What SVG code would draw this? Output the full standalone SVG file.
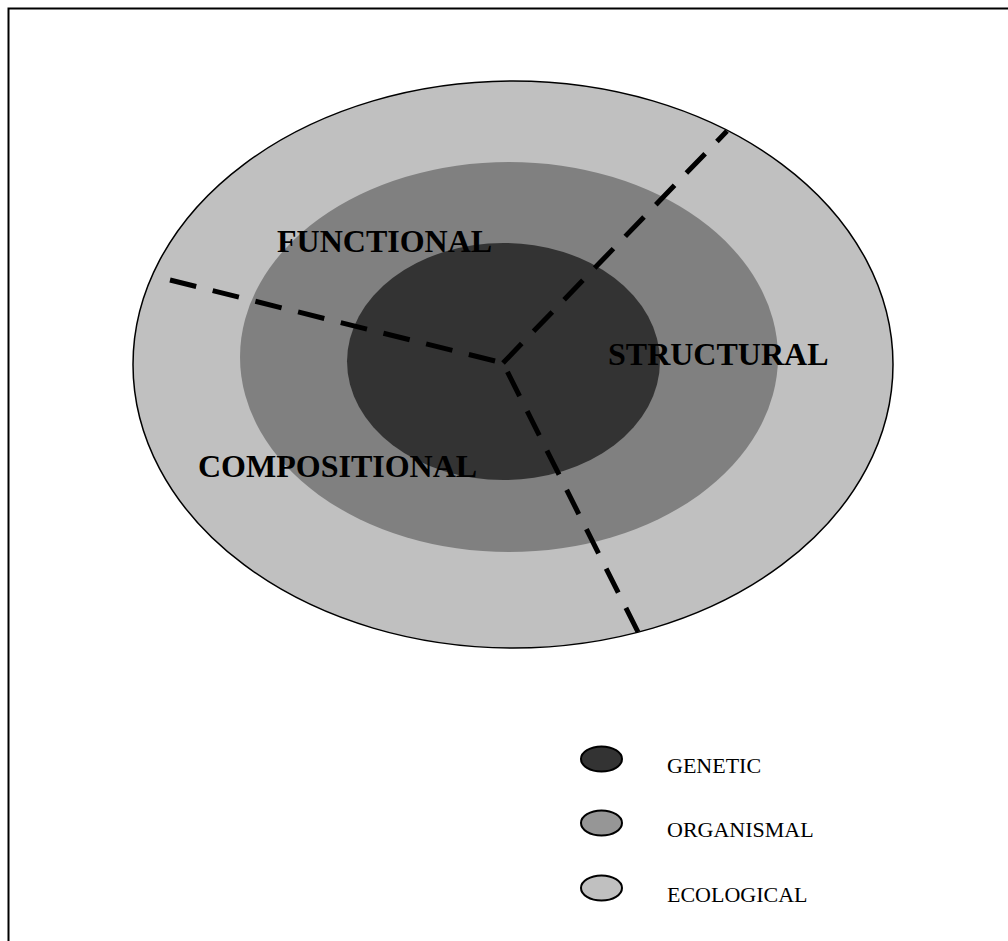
<svg xmlns="http://www.w3.org/2000/svg" width="1008" height="941" viewBox="0 0 1008 941">
<style>
.lbl{font-family:"Liberation Serif","Times New Roman",serif;font-weight:bold;font-size:32px;fill:#000}
.leg{font-family:"Liberation Serif","Times New Roman",serif;font-size:22px;fill:#000}
.dash{stroke:#000;stroke-width:5;stroke-dasharray:27 17;fill:none}
.ring{stroke:none}
.legdot{stroke:#000;stroke-width:2}
</style>
<rect width="1008" height="941" fill="#fff"/>
<path d="M8.5 941 V8.5 H1008" fill="none" stroke="#000" stroke-width="2"/>
<g id="ecological">
<ellipse cx="513" cy="364.5" rx="380" ry="283.5" fill="#c0c0c0" stroke="#000" stroke-width="1.5"/>
</g>
<g id="organismal">
<ellipse class="ring" cx="509" cy="357" rx="269" ry="195" fill="#808080"/>
</g>
<g id="genetic">
<ellipse class="ring" cx="503.5" cy="361.5" rx="156.5" ry="118.5" fill="#333333"/>
</g>
<g id="connectors">
<path class="dash" d="M170 280 L503 363"/>
<path class="dash" d="M503 363 L727 131"/>
<path class="dash" d="M638 632 L503 363"/>
</g>
<g id="functional"><text class="lbl" x="277" y="252">FUNCTIONAL</text></g>
<g id="structural"><text class="lbl" x="608" y="365">STRUCTURAL</text></g>
<g id="compositional"><text class="lbl" x="198" y="477">COMPOSITIONAL</text></g>
<g id="legend">
<g id="legend-genetic"><ellipse class="legdot" cx="601.5" cy="759" rx="20.5" ry="12.5" fill="#333333"/><text class="leg" x="667" y="773">GENETIC</text></g>
<g id="legend-organismal"><ellipse class="legdot" cx="601.5" cy="823" rx="20.5" ry="12.5" fill="#969696"/><text class="leg" x="667" y="837">ORGANISMAL</text></g>
<g id="legend-ecological"><ellipse class="legdot" cx="601.5" cy="888" rx="20.5" ry="12.5" fill="#c0c0c0"/><text class="leg" x="667" y="902">ECOLOGICAL</text></g>
</g>
</svg>
